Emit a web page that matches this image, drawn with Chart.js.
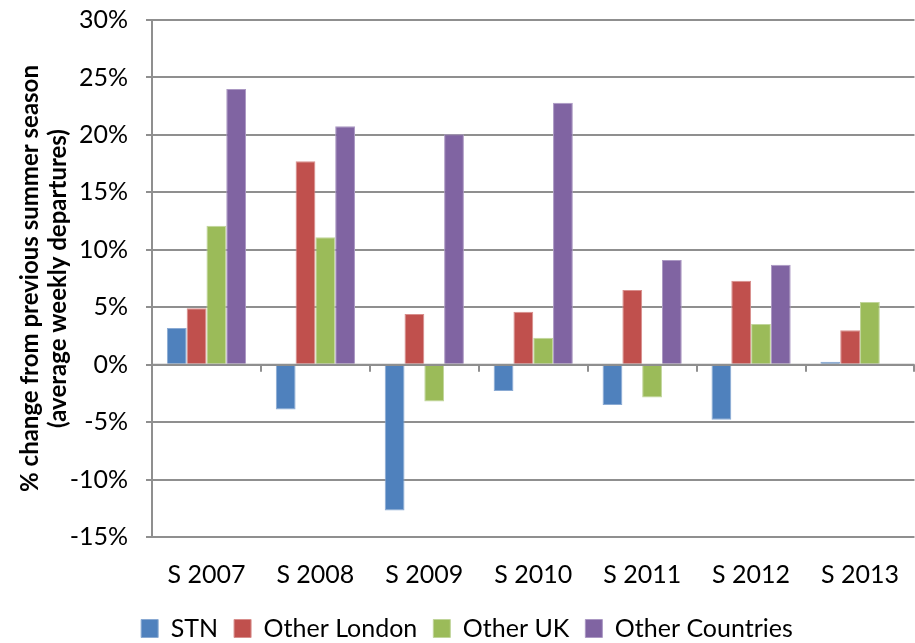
<!DOCTYPE html>
<html>
<head>
<meta charset="utf-8">
<title>Summer season departures change</title>
<script src="https://cdn.jsdelivr.net/npm/chart.js@4/dist/chart.umd.min.js"></script>
<style>
  html, body { margin: 0; padding: 0; background: #fff; overflow: hidden; }
  #wrap { position: absolute; left: 0; top: 0; width: 922px; height: 643px; }
</style>
</head>
<body>
<div id="wrap"><canvas id="chart"></canvas></div>
<script>
// Summer seasons compared with the previous summer
const seasons = ['S 2007', 'S 2008', 'S 2009', 'S 2010', 'S 2011', 'S 2012', 'S 2013'];

// % change in average weekly departures, by destination group
const stn            = [3.2, -3.9, -12.7, -2.3, -3.5, -4.8, 0.25];
const otherLondon    = [4.9, 17.7, 4.4, 4.6, 6.5, 7.3, 3.0];
const otherUK        = [12.1, 11.1, -3.2, 2.35, -2.85, 3.55, 5.45];
const otherCountries = [24.0, 20.75, 20.05, 22.8, 9.1, 8.7, null];

// Y axis range and step (percent)
const yMin = -15, yMax = 30, yStep = 5;

const FONT = 'Lato, "Open Sans", sans-serif';
const GRID = '#8f8f8f';

function series(label, data, fill, edge) {
  return { label, data, backgroundColor: fill, borderColor: edge, borderWidth: 1,
           categoryPercentage: 0.727, barPercentage: 1.0 };
}

// Short tick marks hanging below the zero line at the category boundaries
const zeroLineTicks = {
  id: 'zeroLineTicks',
  afterDatasetsDraw(chart) {
    const x = chart.scales.x, y = chart.scales.y, ctx = chart.ctx;
    const y0 = y.getPixelForValue(0);
    ctx.save();
    ctx.strokeStyle = GRID;
    ctx.lineWidth = 2;
    ctx.beginPath();
    ctx.moveTo(x.left, y0);
    ctx.lineTo(x.right, y0);
    for (let i = 0; i <= seasons.length; i++) {
      const px = Math.round(x.getPixelForValue(i - 0.5));
      ctx.moveTo(px, y0);
      ctx.lineTo(px, y0 + 7);
    }
    ctx.stroke();
    ctx.restore();
  }
};

new Chart(document.getElementById('chart'), {
  type: 'bar',
  data: {
    labels: seasons,
    datasets: [
      series('STN', stn, '#4F81BD', '#8aaad3'),
      series('Other London', otherLondon, '#C0504D', '#d88e8c'),
      series('Other UK', otherUK, '#9BBB59', '#c0d59a'),
      series('Other Countries', otherCountries, '#8064A2', '#ab98c3')
    ]
  },
  options: {
    responsive: true,
    maintainAspectRatio: false,
    animation: false,
    layout: { padding: { top: 20, right: 0, bottom: -8, left: 12 } },
    plugins: {
      tooltip: { enabled: false },
      legend: {
        position: 'bottom',
        labels: {
          boxWidth: 17,
          boxHeight: 18,
          padding: 16,
          color: '#000',
          font: { family: FONT, size: 25 }
        }
      }
    },
    scales: {
      x: {
        grid: { display: false, drawTicks: false },
        border: { display: false },
        ticks: { color: '#000', padding: 23, font: { family: FONT, size: 25 }, maxRotation: 0 },
        afterFit(scale) { scale.height = 63; }
      },
      y: {
        min: yMin,
        max: yMax,
        grid: { color: GRID, lineWidth: 2, tickLength: 6, tickColor: GRID },
        border: { color: GRID, width: 2 },
        ticks: {
          stepSize: yStep,
          color: '#000',
          padding: 18,
          font: { family: FONT, size: 25 },
          callback: v => v + '%'
        },
        title: {
          display: true,
          text: ['% change from previous summer season', '(average weekly departures)'],
          color: '#000',
          font: { family: FONT, size: 24, weight: 'bold', lineHeight: 1.17 },
          padding: { top: 4, bottom: 0 }
        },
        afterFit(scale) {
          scale.width = 140;
          scale.paddingTop = 0;
          scale.paddingBottom = 0;
        }
      }
    }
  },
  plugins: [zeroLineTicks]
});
</script>
</body>
</html>
